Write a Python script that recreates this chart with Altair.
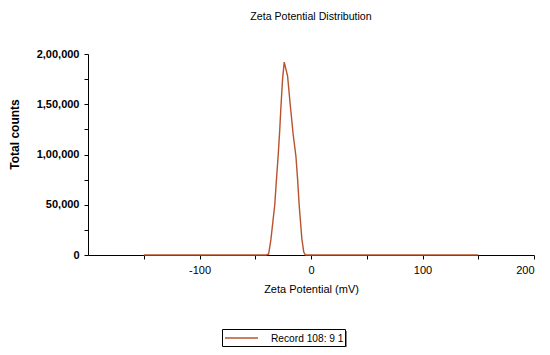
import altair as alt
import pandas as pd

# Data
zeta_mv = [-150, -40, -38, -36, -34, -32.5, -31, -29.5, -28, -27, -25.5, -24,
           -22.5, -21, -19.5, -18.4, -16, -13.5, -12, -10.5, -8.2, -6.5, -5, 150]
counts = [0, 0, 1000, 15000, 35000, 50000, 75000, 98000, 125000, 147000, 175000, 192000,
          185000, 178000, 160000, 147000, 120000, 98000, 75000, 48000, 16000, 3000, 0, 0]
series_name = "Record 108: 9 1"

x_ticks = [-150, -100, -50, 0, 50, 100, 150, 200]
x_labels = [-100, 0, 100, 200]
y_ticks = [0, 25000, 50000, 75000, 100000, 125000, 150000, 175000, 200000]
y_label_map = {0: "0", 50000: "50,000", 100000: "1,00,000", 150000: "1,50,000", 200000: "2,00,000"}

LINE_COLOR = "#b8532e"
FONT = "Liberation Sans"

df = pd.DataFrame({"zeta": zeta_mv, "counts": counts, "series": [series_name] * len(zeta_mv)})
legend_df = pd.DataFrame({"label": [series_name]})

y_expr = " : ".join(f"datum.value == {k} ? '{v}'" for k, v in y_label_map.items()) + " : ''"
x_expr = " : ".join(f"datum.value == {v} ? '{v}'" for v in x_labels) + " : ''"

line = alt.Chart(df).mark_line(strokeWidth=1.4, color=LINE_COLOR).encode(
    x=alt.X("zeta:Q", scale=alt.Scale(domain=[-200, 200], nice=False, zero=False),
            axis=alt.Axis(title="Zeta Potential (mV)", values=x_ticks, labelExpr=x_expr,
                          grid=False, domainColor="black", tickColor="black",
                          labelColor="black", titleColor="black", labelFont=FONT, titleFont=FONT,
                          labelFontSize=11, titleFontSize=11, titleFontWeight="normal",
                          tickSize=4, labelPadding=5, titlePadding=8)),
    y=alt.Y("counts:Q", scale=alt.Scale(domain=[0, 200000], nice=False),
            axis=alt.Axis(title="Total counts", values=y_ticks, labelExpr=y_expr,
                          grid=False, domainColor="black", tickColor="black",
                          labelColor="black", titleColor="black", labelFont=FONT, titleFont=FONT,
                          labelFontSize=11, labelFontWeight="bold", titleFontSize=12,
                          titleFontWeight="bold", tickSize=4, labelPadding=5,
                          titleX=-67, titleY=80)),
)

# Legend box (drawn manually so the line sample can be long while the box stays short)
legend_shadow = alt.Chart(legend_df).mark_rect(fill="#888888").encode(
    x=alt.value(136), x2=alt.value(259), y=alt.value(277), y2=alt.value(293.5))
legend_box = alt.Chart(legend_df).mark_rect(fill="white", stroke="black", strokeWidth=1).encode(
    x=alt.value(134.5), x2=alt.value(257.5), y=alt.value(275.5), y2=alt.value(292.5))
legend_line = alt.Chart(legend_df).mark_rule(color=LINE_COLOR, strokeWidth=1.5).encode(
    x=alt.value(137), x2=alt.value(170), y=alt.value(284))
legend_text = alt.Chart(legend_df).mark_text(
    align="left", baseline="middle", font=FONT, fontSize=10.2, color="black").encode(
    x=alt.value(183), y=alt.value(284.5), text="label:N")

chart = alt.layer(line, legend_shadow, legend_box, legend_line, legend_text).properties(
    width=446, height=201,
    title=alt.TitleParams("Zeta Potential Distribution", font=FONT, fontSize=10.6,
                          fontWeight="normal", color="black", anchor="middle", offset=25),
    autosize=alt.AutoSizeParams(type="none"),
    padding={"left": 80, "top": 46, "right": 8, "bottom": 92},
).configure_view(stroke=None)

chart.save("out.html", embed_options={"renderer": "svg", "actions": False})
